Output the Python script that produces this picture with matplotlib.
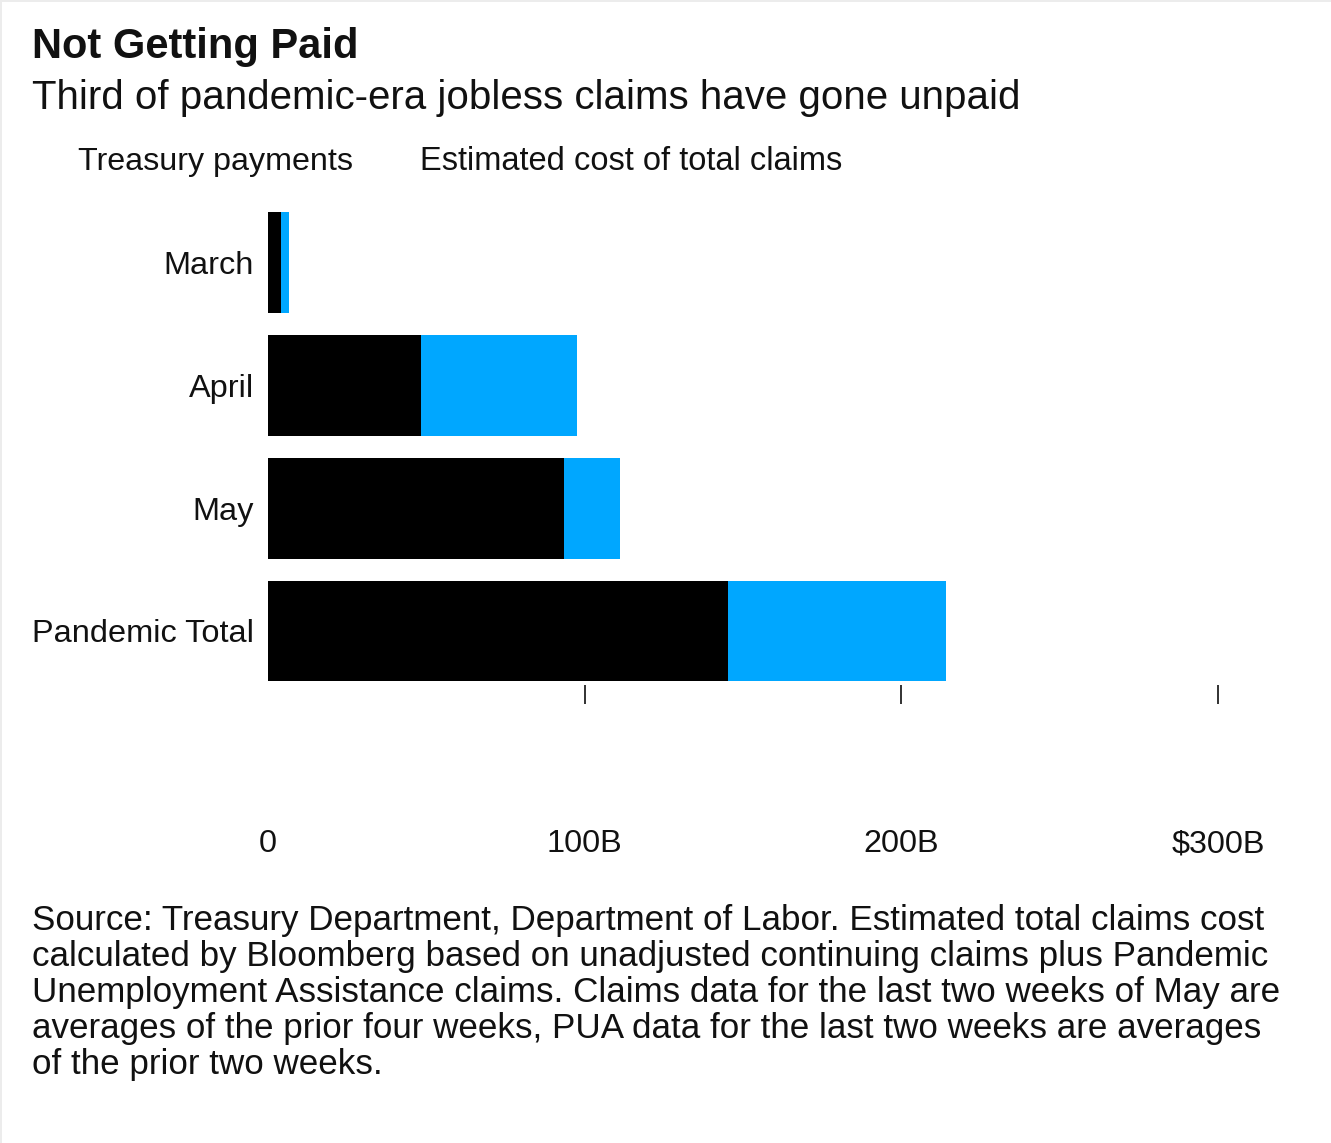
import matplotlib.pyplot as plt
from matplotlib.patches import Rectangle

# Treasury payments vs. estimated cost of all claims, $ billions
categories = ['March', 'April', 'May', 'Pandemic Total']
treasury_payments = [4.1, 48.3, 93.5, 145.3]
estimated_cost = [6.6, 97.6, 111.2, 214.1]
tick_values = [0, 100, 200, 300]
tick_labels = ['0', '100B', '200B', '$300B']

plt.rcParams['font.family'] = ['Liberation Sans', 'DejaVu Sans']

W, H = 1331, 1143
fig = plt.figure(figsize=(W / 100, H / 100), dpi=100)
fig.patch.set_facecolor('white')

# thin grey strip along the top and left edges
fig.add_artist(Rectangle((0, 1 - 2 / H), 1, 2 / H, transform=fig.transFigure,
                         color='#ececec', lw=0))
fig.add_artist(Rectangle((0, 0), 2 / W, 1, transform=fig.transFigure,
                         color='#ececec', lw=0))

# axes spans 0..300 horizontally, bars sit above the tick marks
ax = fig.add_axes([268 / W, 1 - 685 / H, (1218 - 268) / W, (685 - 200) / H])
ypos = list(range(len(categories)))
ax.barh(ypos, estimated_cost, height=0.82, color='#00a7ff', zorder=2)
ax.barh(ypos, treasury_payments, height=0.82, color='black', zorder=3)

ax.set_xlim(0, 300)
ax.set_ylim(3.44, -0.51)
ax.set_yticks(ypos)
ax.set_yticklabels(categories, fontsize=23.4, color='#111111')
ax.tick_params(axis='y', length=0, pad=10)
ax.set_xticks(tick_values)
ax.set_xticklabels(tick_labels, fontsize=23.3, color='#111111')
ax.tick_params(axis='x', direction='out', length=14, width=1.3, color='#222222', pad=90)
ax.xaxis.get_major_ticks()[0].tick1line.set_visible(False)
for spine in ax.spines.values():
    spine.set_visible(False)

fig.text(32 / W, 1 - 47 / H, 'Not Getting Paid', fontsize=30, fontweight='bold',
         color='#111111', va='center', ha='left')
fig.text(32 / W, 1 - 98 / H, 'Third of pandemic-era jobless claims have gone unpaid',
         fontsize=29, color='#111111', va='center', ha='left')
fig.text(78 / W, 1 - 162 / H, 'Treasury payments', fontsize=23.2,
         color='#111111', va='center', ha='left')
fig.text(420 / W, 1 - 162 / H, 'Estimated cost of total claims', fontsize=23.5,
         color='#111111', va='center', ha='left')

note = ('Source: Treasury Department, Department of Labor. Estimated total claims cost\n'
        'calculated by Bloomberg based on unadjusted continuing claims plus Pandemic\n'
        'Unemployment Assistance claims. Claims data for the last two weeks of May are\n'
        'averages of the prior four weeks, PUA data for the last two weeks are averages\n'
        'of the prior two weeks.')
fig.text(32 / W, 1 - 904 / H, note, fontsize=25.2, color='#111111', va='top', ha='left',
         linespacing=1.12)

fig.savefig('out.png', dpi=100)
